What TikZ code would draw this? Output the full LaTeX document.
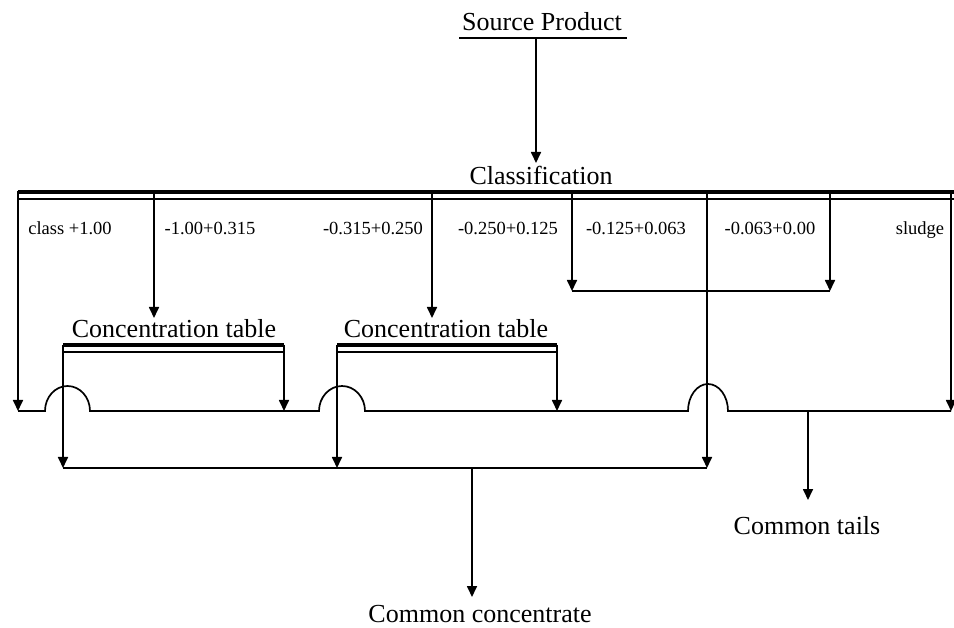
\documentclass[tikz,border=0pt]{standalone}
\usepackage{fontspec}
\setmainfont{Liberation Serif}
\usetikzlibrary{arrows.meta}
\begin{document}
\begin{tikzpicture}[x=1pt,y=-1pt,
  ln/.style={line width=1.7pt},
  arr/.style={ln,-{Triangle[width=10pt,length=11pt]}},
  big/.style={font=\fontsize{26}{28}\selectfont, inner sep=0pt, anchor=base},
  small/.style={font=\fontsize{18.5}{20}\selectfont, inner sep=0pt, anchor=base},
  thickbar/.style={line width=3.6pt},
  thinbar/.style={line width=1.4pt}]
\useasboundingbox (0,0) rectangle (954,628);
% --- source
\node[big] (src) at (542,31) {Source Product};
\coordinate (srcL) at (459,38); \coordinate (srcR) at (627,38);
\draw[ln] (srcL) -- (srcR);
\coordinate (srcOut) at (536,38);
\node[big] (cls) at (541,185) {Classification};
\coordinate (clsIn) at (536,163);
\draw[arr] (srcOut) -- (clsIn);
% --- classification bar
\coordinate (barL) at (18,192); \coordinate (barR) at (954,192);
\coordinate (bar2L) at (18,199); \coordinate (bar2R) at (954,199);
\draw[thickbar] (barL) -- (barR);
\draw[thinbar] (bar2L) -- (bar2R);
% outlets
\coordinate (t0) at (18,191);  \coordinate (t1) at (154,191);
\coordinate (t2) at (432,191); \coordinate (t3) at (572,191);
\coordinate (t4) at (707,191); \coordinate (t5) at (830,191);
\coordinate (t6) at (951,191);
% labels
\node[small] (l0) at (70,235) {class +1.00};
\node[small] (l1) at (210,235) {-1.00+0.315};
\node[small] (l2) at (373,235) {-0.315+0.250};
\node[small] (l3) at (508,235) {-0.250+0.125};
\node[small] (l4) at (636,235) {-0.125+0.063};
\node[small] (l5) at (770,235) {-0.063+0.00};
\node[small] (l6) at (920,235) {sludge};
% --- fine classes collector
\coordinate (f3) at (572,291); \coordinate (f5) at (830,291);
\draw[arr] (t3) -- (f3);
\draw[arr] (t5) -- (f5);
\draw[ln] (f3) -- (f5);
% --- concentration tables
\node[big] (ct1) at (174,338) {Concentration table};
\node[big] (ct2) at (446,338) {Concentration table};
\coordinate (c1L) at (63,345); \coordinate (c1R) at (284,345);
\coordinate (c1Lb) at (63,352); \coordinate (c1Rb) at (284,352);
\coordinate (c2L) at (337,345); \coordinate (c2R) at (557,345);
\coordinate (c2Lb) at (337,352); \coordinate (c2Rb) at (557,352);
\draw[thickbar] (c1L) -- (c1R); \draw[thinbar] (c1Lb) -- (c1Rb);
\draw[thickbar] (c2L) -- (c2R); \draw[thinbar] (c2Lb) -- (c2Rb);
\coordinate (ct1In) at (154,318); \coordinate (ct2In) at (432,318);
\draw[arr] (t1) -- (ct1In);
\draw[arr] (t2) -- (ct2In);
% --- tails line with jumps
\coordinate (tl0) at (18,411); \coordinate (tlEnd) at (951,411);
\coordinate (j1) at (45,411); \coordinate (j2) at (319,411); \coordinate (j3) at (688,411);
\draw[ln] (tl0) -- (j1) arc[start angle=180,end angle=0,x radius=22.5pt,y radius=25pt]
  -- (j2) arc[start angle=180,end angle=0,x radius=23pt,y radius=25pt]
  -- (j3) arc[start angle=180,end angle=0,x radius=20pt,y radius=27pt]
  -- (tlEnd);
\draw[arr] (t0) -- (tl0);
\draw[arr] (t6) -- (tlEnd);
\coordinate (r1) at (284,411); \coordinate (r2) at (557,411);
\draw[arr] (c1R) -- (r1);
\draw[arr] (c2R) -- (r2);
% --- concentrate line
\coordinate (cc1) at (63,468); \coordinate (cc2) at (337,468); \coordinate (cc3) at (707,468);
\draw[arr] (c1L) -- (cc1);
\draw[arr] (c2L) -- (cc2);
\draw[arr] (t4) -- (cc3);
\draw[ln] (cc1) -- (cc3);
% --- outputs
\node[big] (conc) at (480,622) {Common concentrate};
\node[big] (tails) at (807,534) {Common tails};
\coordinate (ccOut) at (472,468); \coordinate (ccIn) at (472,597);
\draw[arr] (ccOut) -- (ccIn);
\coordinate (tOut) at (808,411); \coordinate (tIn) at (808,500);
\draw[arr] (tOut) -- (tIn);
\end{tikzpicture}
\end{document}
